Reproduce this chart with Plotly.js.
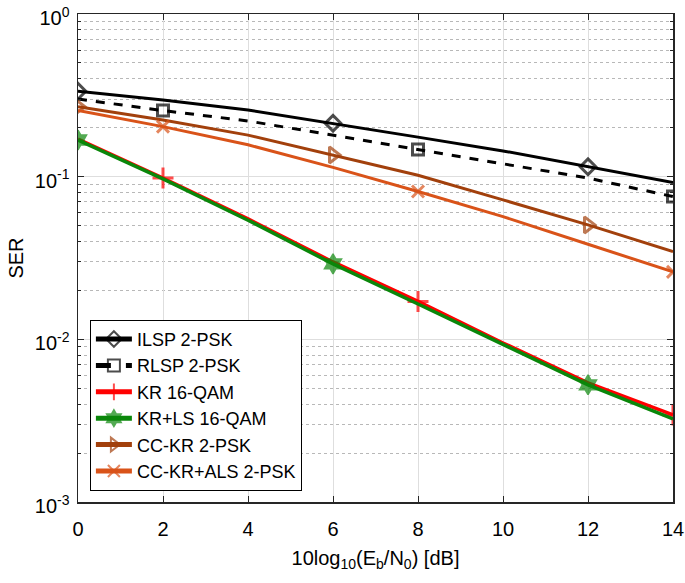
<!DOCTYPE html>
<html>
<head>
<meta charset="utf-8">
<script src="https://cdn.plot.ly/plotly-3.0.1.min.js"></script>
<style>
  html, body { margin: 0; padding: 0; background: #fff; }
  #chart { width: 685px; height: 583px; }
</style>
</head>
<body>
<div id="chart"></div>
<script>
// Data (SNR in dB and SER per method)
var snr = [0, 2, 4, 6, 8, 10, 12, 14];

var ilsp = [0.335, 0.296, 0.257, 0.213, 0.175, 0.144, 0.115, 0.092];
var rlsp = [0.300, 0.255, 0.220, 0.180, 0.147, 0.121, 0.098, 0.0754];
var kr = [0.170, 0.098, 0.055, 0.0299, 0.0171, 0.0095, 0.0054, 0.00343];
var krls = [0.168, 0.097, 0.054, 0.0291, 0.0165, 0.0093, 0.00525, 0.00324];
var cckr = [0.269, 0.223, 0.180, 0.136, 0.102, 0.072, 0.0505, 0.0346];
var cckrals = [0.255, 0.203, 0.157, 0.114, 0.081, 0.0568, 0.0384, 0.026];

var names = ["ILSP 2-PSK", "RLSP 2-PSK", "KR 16-QAM", "KR+LS 16-QAM", "CC-KR 2-PSK", "CC-KR+ALS 2-PSK"];

// which points carry a marker (every third point, like MarkerIndices)
var marksA = [0, 6, 12];
var marksB = [2, 8, 14];

function markerSizes(marks, size) {
    var s = [];
    for (var i = 0; i < snr.length; i++) {
        s.push(marks.indexOf(snr[i]) >= 0 ? size : 0);
    }
    return s;
}

function makeTrace(y, name, color, dash, lw, symbol, marks, size, mlw) {
    return {
        x: snr,
        y: y,
        name: name,
        type: "scatter",
        mode: "lines+markers",
        line: { color: color, width: lw, dash: dash },
        marker: {
            symbol: symbol,
            size: markerSizes(marks, size),
            color: color,
            line: { color: color, width: mlw }
        }
    };
}

var traces = [
    makeTrace(ilsp, names[0], "#000000", "solid", 3, "diamond-open", marksA, 12, 3),
    makeTrace(rlsp, names[1], "#000000", "dash", 3, "square-open", marksB, 11, 3),
    makeTrace(kr, names[2], "#ff0000", "solid", 3.5, "cross-thin-open", marksB, 15, 3),
    makeTrace(krls, names[3], "#0a870a", "solid", 3.5, "hexagram", marksA, 15, 1.5),
    makeTrace(cckr, names[4], "#a2400c", "solid", 3, "triangle-right-open", marksA, 14, 3),
    makeTrace(cckrals, names[5], "#d95319", "solid", 3, "x-thin-open", marksB, 12, 3)
];

// log axis ticks
var majorVals = [1, 0.1, 0.01, 0.001];
var majorText = ["10<sup>0</sup>", "10<sup>-1</sup>", "10<sup>-2</sup>", "10<sup>-3</sup>"];
var minorVals = [];
for (var e = -3; e < 0; e++) {
    for (var d = 2; d <= 9; d++) {
        minorVals.push(d * Math.pow(10, e));
    }
}

var fontFam = "Liberation Sans, Arial, sans-serif";

var layout = {
    width: 685,
    height: 583,
    margin: { l: 78, r: 12, t: 14, b: 81 },
    paper_bgcolor: "#ffffff",
    plot_bgcolor: "#ffffff",
    font: { family: fontFam, size: 20, color: "#000" },
    showlegend: true,
    legend: {
        x: 0.02, y: 0.023, xanchor: "left", yanchor: "bottom",
        bgcolor: "#ffffff", bordercolor: "#000", borderwidth: 1,
        font: { family: fontFam, size: 18, color: "#000" },
        itemsizing: "constant",
        itemwidth: 36,
        tracegroupgap: 0
    },
    xaxis: {
        range: [0, 14],
        tickmode: "array",
        tickvals: [0, 2, 4, 6, 8, 10, 12, 14],
        ticks: "inside", ticklen: 6, tickcolor: "#262626",
        showline: true, linecolor: "#262626", linewidth: 1.5, mirror: "ticks",
        showgrid: true, gridcolor: "#dedede", gridwidth: 1,
        zeroline: false,
        tickfont: { size: 20 },
        ticklabelstandoff: 8,
        title: { text: "10log<sub>10</sub>(E<sub>b</sub>/N<sub>0</sub>) [dB]", font: { size: 20 }, standoff: 12 }
    },
    yaxis: {
        type: "log",
        range: [-3, 0],
        tickmode: "array",
        tickvals: majorVals,
        ticktext: majorText,
        ticks: "inside", ticklen: 6, tickcolor: "#262626",
        showline: true, linecolor: "#262626", linewidth: 1.5, mirror: "ticks",
        showgrid: true, gridcolor: "#dedede", gridwidth: 1,
        zeroline: false,
        tickfont: { size: 20 },
        ticklabelstandoff: 3,
        ticklabelshift: 4,
        ticklabeloverflow: "allow",
        minor: {
            tickmode: "array",
            tickvals: minorVals,
            ticks: "inside", ticklen: 3, tickcolor: "#262626",
            showgrid: true, gridcolor: "#b8b8b8", griddash: "dot", gridwidth: 1
        },
        title: { text: "SER", font: { size: 20 }, standoff: 6 }
    }
};

Plotly.newPlot("chart", traces, layout, { displayModeBar: false, staticPlot: true });
</script>
</body>
</html>
